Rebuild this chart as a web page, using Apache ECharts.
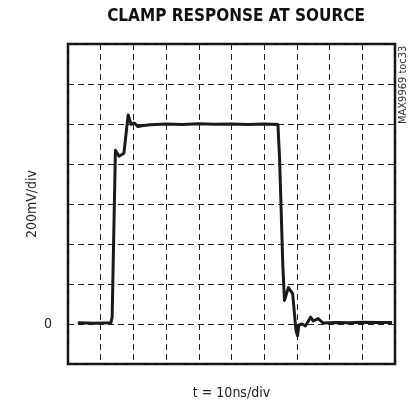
<!DOCTYPE html>
<html>
<head>
<meta charset="utf-8">
<script src="https://cdn.jsdelivr.net/npm/echarts@6/dist/echarts.min.js"></script>
<style>
  html, body { margin: 0; padding: 0; background: #fff; }
  #chart { width: 420px; height: 405px; }
</style>
</head>
<body>
<div id="chart"></div>
<script>
// Scope trace: time in ns, voltage in mV
const timeNs = [3.0, 8.0, 13.1, 13.5, 14.5, 15.6, 17.1, 18.4, 19.3, 20.3, 21.4, 22.6, 25.1,
  30, 35, 40, 45, 50, 55, 60, 64.2, 64.7, 65.7, 66.2, 67.4, 68.7, 69.7, 70.2, 70.6,
  71.6, 72.6, 74.2, 75.0, 76.5, 78.0, 82, 86, 90, 95, 99.1];
const voltMv = [6, 4, 6, 34, 869, 839, 854, 1045, 998, 1005, 987, 991, 996,
  1000, 998, 1001, 999, 1000, 998, 1000, 998, 829, 290, 118, 182, 152, -29, -59, -5,
  0, -10, 34, 15, 27, 5, 8, 6, 9, 7, 8];

const xMin = 0, xMax = 100, xStep = 10;
const yMin = -200, yMax = 1400, yStep = 200;

const titleText = 'CLAMP RESPONSE AT SOURCE';
const xName = 't = 10ns/div';
const yName = '200mV/div';
const tagText = 'MAX9969 toc33';

const narrow = '"Liberation Sans Narrow", "DejaVu Sans Condensed", "Roboto Condensed", sans-serif';

const chart = echarts.init(document.getElementById('chart'), null, { renderer: 'canvas' });
chart.setOption({
  animation: false,
  backgroundColor: '#fff',
  title: {
    text: titleText,
    left: 231, top: 3, textAlign: 'center',
    textStyle: { fontFamily: narrow, fontWeight: 'bold', fontSize: 17, color: '#111' }
  },
  grid: {
    left: 68, right: 25, top: 44, bottom: 35,
    show: true, borderColor: '#111', borderWidth: 2.5, backgroundColor: 'transparent'
  },
  xAxis: {
    type: 'value', min: xMin, max: xMax, interval: xStep,
    name: xName, nameLocation: 'middle', nameGap: 22,
    nameTextStyle: { fontFamily: narrow, fontSize: 14, color: '#222' },
    axisLine: { show: false }, axisTick: { show: false }, axisLabel: { show: false },
    splitLine: { show: true, lineStyle: { color: '#222', width: 1, type: [6, 4] } }
  },
  yAxis: {
    type: 'value', min: yMin, max: yMax, interval: yStep,
    name: yName, nameLocation: 'middle', nameGap: 29, nameMoveOverlap: false,
    nameTextStyle: { fontFamily: narrow, fontSize: 14, color: '#222' },
    axisLine: { show: false }, axisTick: { show: false },
    axisLabel: {
      margin: 16, fontFamily: narrow, fontSize: 14, color: '#222',
      formatter: v => (v === 0 ? '0' : '')
    },
    splitLine: { show: true, lineStyle: { color: '#222', width: 1, type: [6, 4] } }
  },
  graphic: [{
    type: 'text', x: 398, y: 124, rotation: Math.PI / 2,
    style: { text: tagText, fontFamily: narrow, fontSize: 11, fill: '#333',
      textAlign: 'left', textVerticalAlign: 'top' }
  }],
  series: [{
    type: 'line',
    data: timeNs.map((t, i) => [t, voltMv[i]]),
    showSymbol: false,
    lineStyle: { color: '#1a1a1a', width: 3, join: 'round' },
    z: 5
  }]
});
</script>
</body>
</html>
